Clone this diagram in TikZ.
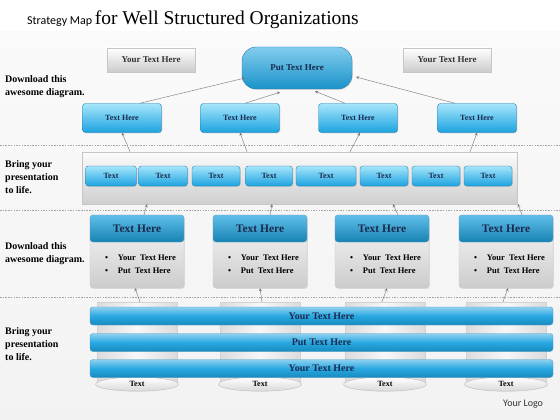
\documentclass[tikz,border=0pt]{standalone}
\usepackage{fontspec}
\setmainfont{Liberation Serif}
\setsansfont{Carlito}
\usetikzlibrary{shapes.geometric,shadows}
\definecolor{skyblue}{HTML}{1CA3E0}
\definecolor{paleblue}{HTML}{A6E6FB}
\definecolor{edgeblue}{HTML}{2A7DAF}
\definecolor{navytext}{HTML}{1B2A4E}
\newcommand{\yth}{Your Text Here}
\newcommand{\pth}{Put Text Here}

\begin{document}
\begin{tikzpicture}[x=1pt,y=-1pt,
    bluebox/.style={draw=edgeblue, top color=paleblue, bottom color=skyblue, rounded corners=3pt, text=navytext,
        font=\bfseries\fontsize{8}{9}\selectfont, inner sep=0pt,
        drop shadow={opacity=0.25,shadow xshift=0.8pt,shadow yshift=-0.8pt}},
    graybox/.style={draw=gray!45, top color=white, bottom color=gray!40, text=black!80,
        font=\bfseries\fontsize{9}{10}\selectfont, inner sep=0pt, minimum width=88pt, minimum height=24pt,
        drop shadow={opacity=0.2,shadow xshift=0.8pt,shadow yshift=-0.8pt}},
    cardhead/.style={draw=edgeblue!70, top color=skyblue!70!white, bottom color=skyblue!80!black, text=navytext,
        font=\bfseries\fontsize{11.5}{12}\selectfont, rounded corners=3pt, inner sep=0pt, minimum width=94pt, minimum height=27pt},
    cardbody/.style={draw=gray!40, top color=gray!5, bottom color=gray!40, rounded corners=3pt,
        minimum width=94pt, minimum height=73pt,
        drop shadow={opacity=0.2,shadow xshift=0.8pt,shadow yshift=-0.8pt}},
    bar/.style={draw=edgeblue!80, top color=skyblue!50!white, bottom color=skyblue!85!black, middle color=skyblue!95!white,
        text=navytext, font=\bfseries\fontsize{10}{11}\selectfont, rounded corners=3pt, inner sep=0pt,
        minimum width=463pt, minimum height=18pt},
    cyl/.style={draw=gray!35, left color=gray!28, right color=gray!28, middle color=gray!6,
        minimum width=80pt, minimum height=82pt},
    disc/.style={ellipse, draw=gray!55, top color=white, bottom color=gray!30, inner sep=0pt,
        minimum width=83pt, minimum height=14pt, font=\bfseries\fontsize{8}{9}\selectfont},
    lbl/.style={anchor=west, align=left, inner sep=0pt, font=\bfseries\fontsize{10}{13}\selectfont},
    arr/.style={->, >=stealth, black!55, thin},
    sep/.style={gray!70, dash pattern=on 1.5pt off 1.2pt, thin}
    ]
    \useasboundingbox (0,0) rectangle (560,420);
    % background
    \fill[top color=gray!4, bottom color=gray!10] (0,32) rectangle (560,420);

    % Add title
    \node[anchor=base west, inner sep=0pt] (title) at (27,25)
        {{\sffamily\fontsize{12}{12}\selectfont Strategy Map} {\fontsize{19.5}{20}\selectfont for Well Structured Organizations}};

    % Add labels
    \node[lbl] (lbl1) at (5,86.5) {Download this\\awesome diagram.};
    \node[lbl] (lbl2) at (5,177) {Bring your\\presentation\\to life.};
    \node[lbl] (lbl3) at (5,253.5) {Download this\\awesome diagram.};
    \node[lbl] (lbl4) at (5,344) {Bring your\\presentation\\to life.};

    % top level
    \node[graybox] (ytl) at (151,60) {\yth};
    \node[graybox] (ytr) at (447,60) {\yth};
    \node[bluebox, rounded corners=14pt, minimum width=110pt, minimum height=42pt,
        top color=skyblue!55!white, bottom color=skyblue!90!black, font=\bfseries\fontsize{9}{10}\selectfont] (put) at (297,68) {\pth};

    \node[bluebox, minimum width=79pt, minimum height=29pt] (th1) at (122,118) {Text Here};
    \node[bluebox, minimum width=79pt, minimum height=29pt] (th2) at (240,118) {Text Here};
    \node[bluebox, minimum width=79pt, minimum height=29pt] (th3) at (358,118) {Text Here};
    \node[bluebox, minimum width=79pt, minimum height=29pt] (th4) at (477,118) {Text Here};

    \draw[arr] ([xshift=-22pt]th1.north east) -- ([xshift=-52pt,yshift=-10pt]put.center);
    \draw[arr] ([xshift=5pt]th2.north) -- ([xshift=-17pt,yshift=-3pt]put.south);
    \draw[arr] ([xshift=-13pt]th3.north) -- ([xshift=18pt,yshift=-2pt]put.south);
    \draw[arr] ([xshift=-22pt]th4.north) -- ([xshift=59pt,yshift=-9pt]put.center);

    \draw[sep] (0,145) -- (560,145);

    % second level
    \node[draw=gray!45, top color=gray!3, bottom color=gray!38, minimum width=435pt, minimum height=52pt,
        drop shadow={opacity=0.2,shadow xshift=0.8pt,shadow yshift=-0.8pt}] (band) at (299.5,178) {};
    \foreach \x/\w [count=\i] in {111/51,163/49,216/48,269/47,326/60,384/48,436/48,488/48}
        \node[bluebox, minimum width=\w pt, minimum height=20pt] (t\i) at (\x,176) {Text};

    \draw[arr] ([xshift=8pt]th1.south |- band.north) -- (th1.south);
    \draw[arr] ([xshift=7pt]th2.south |- band.north) -- (th2.south);
    \draw[arr] ([xshift=-8pt]th3.south |- band.north) -- ([xshift=2pt]th3.south);
    \draw[arr] ([xshift=-7pt]th4.south |- band.north) -- (th4.south);

    \draw[sep] (0,210) -- (560,210);

    % third level
    \foreach \x [count=\i] in {137,260,382,506} {
        \node[cardbody] (c\i) at (\x,251.5) {};
        \node[cardhead, anchor=north] (h\i) at (c\i.north) {Text Here};
        \node[anchor=west, inner sep=0pt, font=\bfseries\fontsize{8.5}{13}\selectfont] (b\i) at ([xshift=15pt,yshift=-13pt]c\i.west)
            {\begin{tabular}{@{}l@{\hspace{10pt}}l@{}}\textbullet & Your~ Text Here\\ \textbullet & Put~ Text Here\end{tabular}};
    }
    \draw[arr] ([xshift=7pt]c1.north) -- ([xshift=10pt]c1.north |- band.south);
    \draw[arr] ([xshift=10pt]c2.north) -- ([xshift=12pt]c2.north |- band.south);
    \draw[arr] ([xshift=16pt]c3.north) -- ([xshift=11pt]c3.north |- band.south);
    \draw[arr] ([xshift=16pt]c4.north) -- ([xshift=12pt]c4.north |- band.south);

    \draw[sep] (0,297) -- (560,297);

    % bottom level
    \foreach \x [count=\i] in {137,260,385,506} {
        \node[cyl] (k\i) at (\x,343) {};
        \node[disc] (d\i) at (k\i.south) {Text};
    }
    \draw[arr] ([xshift=3pt]k1.north) -- ([xshift=-2pt]c1.south);
    \draw[arr] ([xshift=2pt]k2.north) -- ([xshift=0pt]c2.south);
    \draw[arr] ([xshift=-3pt]k3.north) -- ([xshift=5pt]c3.south);
    \draw[arr] ([xshift=-3pt]k4.north) -- ([xshift=2pt]c4.south);

    \node[bar] (bar1) at (321.5,316) {\yth};
    \node[bar] (bar2) at (321.5,342.5) {\pth};
    \node[bar] (bar3) at (321.5,368.5) {\yth};

    \node[anchor=west, inner sep=0pt, font=\sffamily\fontsize{10}{10}\selectfont, text=black!80] (logo) at (503,404) {Your Logo};
\end{tikzpicture}
\end{document}
